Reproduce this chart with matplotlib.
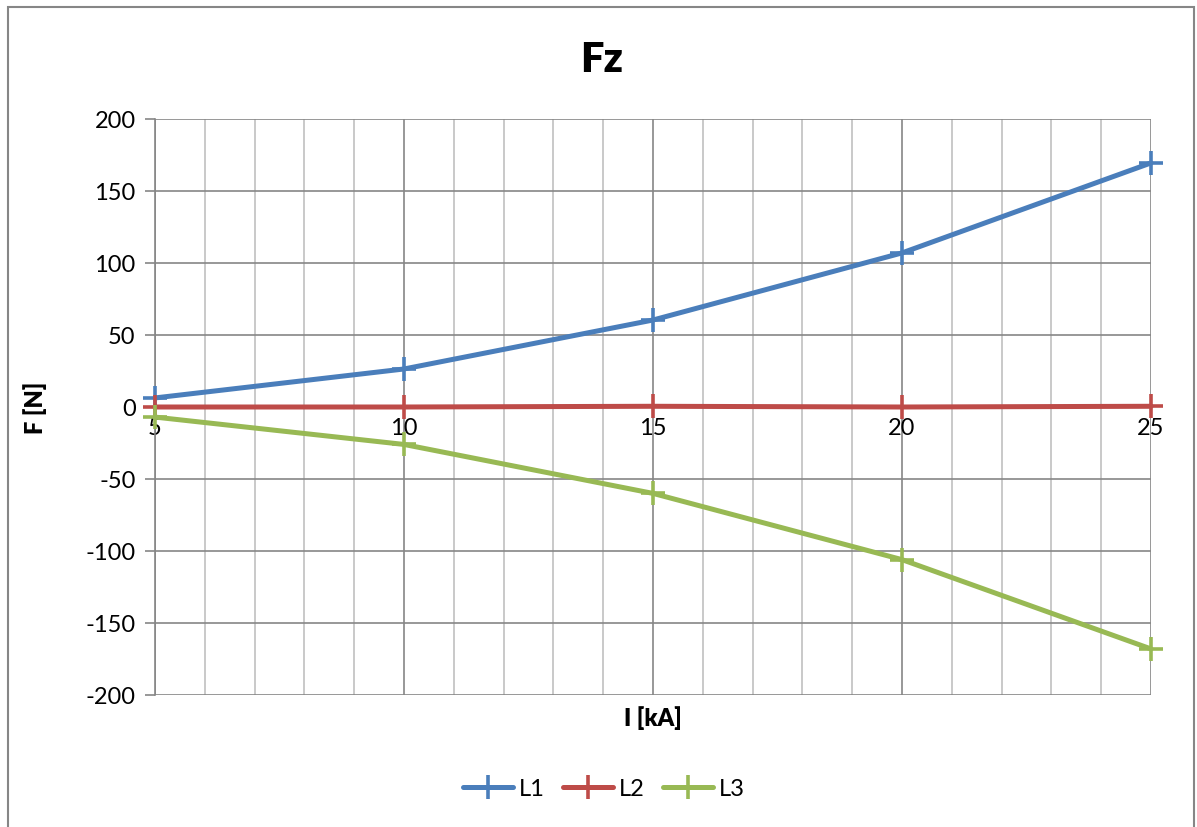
import matplotlib.pyplot as plt
from matplotlib.patches import Rectangle
from matplotlib.ticker import MultipleLocator

plt.rcParams['font.family'] = ['Lato', 'DejaVu Sans']
plt.rcParams['axes.unicode_minus'] = False

# data
current_ka = [5, 10, 15, 20, 25]
l1 = [6.3, 26.4, 60.4, 107, 169.5]
l2 = [0, 0, 0.5, 0, 0.5]
l3 = [-7, -26, -60, -106, -168]

series = [("L1", l1, "#4a7ebb"), ("L2", l2, "#be4b48"), ("L3", l3, "#98b954")]

fig = plt.figure(figsize=(11.97, 8.28), dpi=100)
ax = fig.add_axes([155 / 1197, 1 - 696 / 828, (1151 - 155) / 1197, (696 - 120) / 828])

# outer chart-area border
fig.patches.append(Rectangle((8 / 1197, -0.01), (1194 - 8) / 1197, 1 - 8 / 828 + 0.01,
                             transform=fig.transFigure, fill=False,
                             edgecolor="#868686", lw=1.5))

for name, vals, col in series:
    ax.plot(current_ka, vals, color=col, lw=3.6, marker="+", ms=17, mew=2.6,
            label=name, solid_capstyle="round", zorder=3, clip_on=False)

ax.set_xlim(5, 25)
ax.set_ylim(-200, 200)
ax.xaxis.set_major_locator(MultipleLocator(5))
ax.xaxis.set_minor_locator(MultipleLocator(1))
ax.yaxis.set_major_locator(MultipleLocator(50))

ax.grid(True, which="major", axis="both", color="#868686", lw=1.2, zorder=0)
ax.grid(True, which="minor", axis="x", color="#c0c0c0", lw=1.2, zorder=0)

for s in ["top", "right"]:
    ax.spines[s].set_visible(False)
ax.spines["left"].set_color("#868686")
ax.spines["left"].set_linewidth(1.2)
ax.spines["bottom"].set_position(("data", 0))
ax.spines["bottom"].set_color("#868686")
ax.spines["bottom"].set_linewidth(1.2)

ax.tick_params(axis="y", which="major", length=7, width=1.2, color="#868686",
               labelsize=17, pad=7)
ax.tick_params(axis="x", which="major", length=7, width=1.2, color="#868686",
               direction="inout", labelsize=17, pad=4)
ax.tick_params(axis="x", which="minor", length=0)

fig.text(602 / 1197, 1 - 60 / 828, "Fz", fontsize=30, fontweight="heavy",
         ha="center", va="center")
fig.text(35 / 1197, 1 - 408 / 828, "F [N]", rotation=90, fontsize=17,
         fontweight="heavy", ha="center", va="center")
fig.text(653 / 1197, 1 - 718 / 828, "I [kA]", fontsize=17,
         fontweight="heavy", ha="center", va="center")

fig.legend(loc="center", bbox_to_anchor=(604 / 1197, 1 - 790 / 828), ncol=3,
           frameon=False, fontsize=17, handlelength=2.1, handletextpad=0.25,
           columnspacing=0.8)

fig.savefig("out.png", dpi=100)
